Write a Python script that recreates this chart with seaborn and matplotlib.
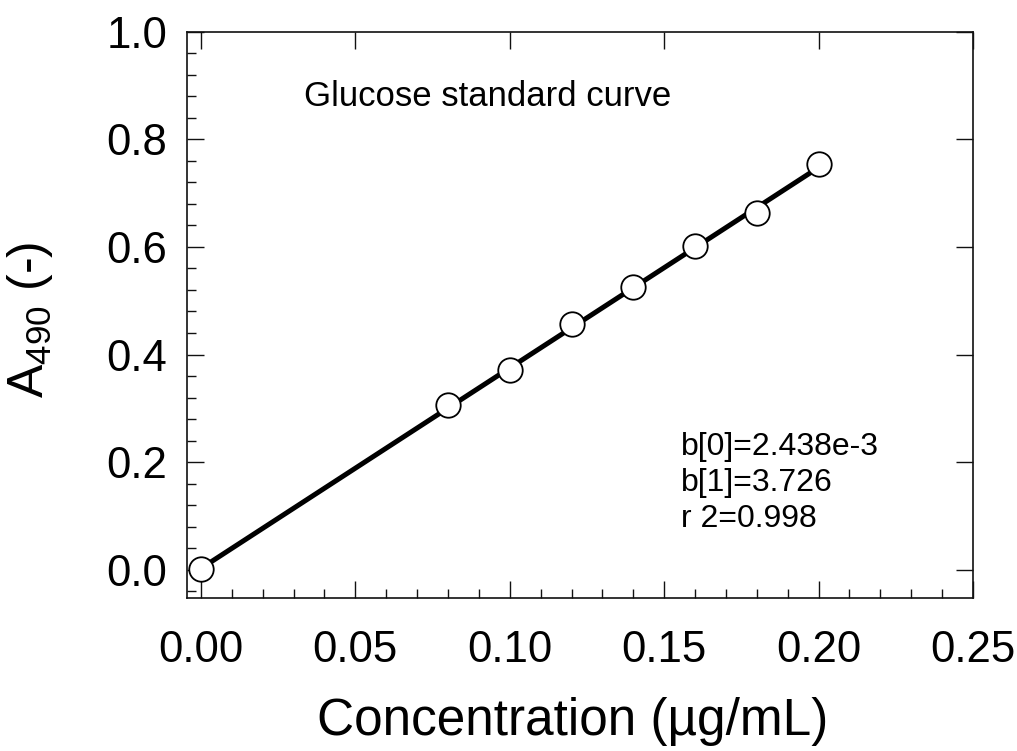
import numpy as np
import pandas as pd
import matplotlib
matplotlib.use("Agg")
import matplotlib.pyplot as plt
import seaborn as sns
from matplotlib.ticker import MultipleLocator

# ---- data ----
concentration = [0.0, 0.08, 0.10, 0.12, 0.14, 0.16, 0.18, 0.20]
absorbance = [0.002, 0.307, 0.372, 0.456, 0.525, 0.601, 0.663, 0.754]
b0 = 2.438e-3
b1 = 3.726
r2 = 0.998
fit_range = [0.0, 0.20]
x_ticks = [0.00, 0.05, 0.10, 0.15, 0.20, 0.25]
y_ticks = [0.0, 0.2, 0.4, 0.6, 0.8, 1.0]
title_text = "Glucose standard curve"
stats_text = ["b[0]=2.438e-3", "b[1]=3.726", "r 2=0.998"]

sns.set_style("ticks")
plt.rcParams['font.family'] = ['Liberation Sans', 'DejaVu Sans']
plt.rcParams['mathtext.fontset'] = 'custom'
plt.rcParams['mathtext.rm'] = 'Liberation Sans'
plt.rcParams['mathtext.it'] = 'Liberation Sans'
plt.rcParams['text.color'] = 'black'
plt.rcParams['axes.labelcolor'] = 'black'
plt.rcParams['xtick.color'] = 'black'
plt.rcParams['ytick.color'] = 'black'

pts = pd.DataFrame({"x": concentration, "y": absorbance})
fit = pd.DataFrame({"x": fit_range, "y": [b0 + b1 * v for v in fit_range]})

fig = plt.figure(figsize=(10.17, 7.51), dpi=100)
ax = fig.add_axes([0.1836, 0.2041, 0.9567 - 0.1836, 0.9578 - 0.2041])

sns.lineplot(data=fit, x="x", y="y", ax=ax, color="black", linewidth=3.6, zorder=2)
sns.scatterplot(data=pts, x="x", y="y", ax=ax, s=310, color="white",
                edgecolor="black", linewidth=1.3, zorder=3)

ax.set_xlim(-0.0046, 0.25)
ax.set_ylim(-0.052, 1.0)
ax.set_xticks(x_ticks)
ax.set_yticks(y_ticks)
ax.set_xticklabels([f"{v:.2f}" for v in x_ticks])
ax.set_yticklabels([f"{v:.1f}" for v in y_ticks])
ax.xaxis.set_minor_locator(MultipleLocator(0.01))
ax.yaxis.set_minor_locator(MultipleLocator(0.04))

for side in ["top", "right", "left", "bottom"]:
    ax.spines[side].set_visible(True)
    ax.spines[side].set_linewidth(1.2)
    ax.spines[side].set_color("#111111")

ax.tick_params(axis="both", which="major", direction="in", length=12, width=1.0,
               labelsize=31.5, top=True, right=True, color="#111111")
ax.tick_params(axis="both", which="minor", direction="in", length=6.5, width=1.0,
               top=False, right=False, color="#111111")
ax.tick_params(axis="x", which="major", pad=23)
ax.tick_params(axis="y", which="major", pad=14)

ax.set_xlabel("Concentration (µg/mL)", fontsize=37)
ax.xaxis.set_label_coords(0.4907, -0.175)
ax.xaxis.label.set_va("top")
ax.set_ylabel(r"A$_{490}$ (-)", fontsize=36)
ax.yaxis.set_label_coords(-0.168, 0.49)

ax.text(0.0335, 0.861, title_text, fontsize=25, ha="left", va="baseline")
line_step = 0.0669
for i, line in enumerate(stats_text):
    ax.text(0.1553, 0.2138 - i * line_step, line, fontsize=23, ha="left",
            va="baseline")

fig.savefig("out.png", dpi=100)
